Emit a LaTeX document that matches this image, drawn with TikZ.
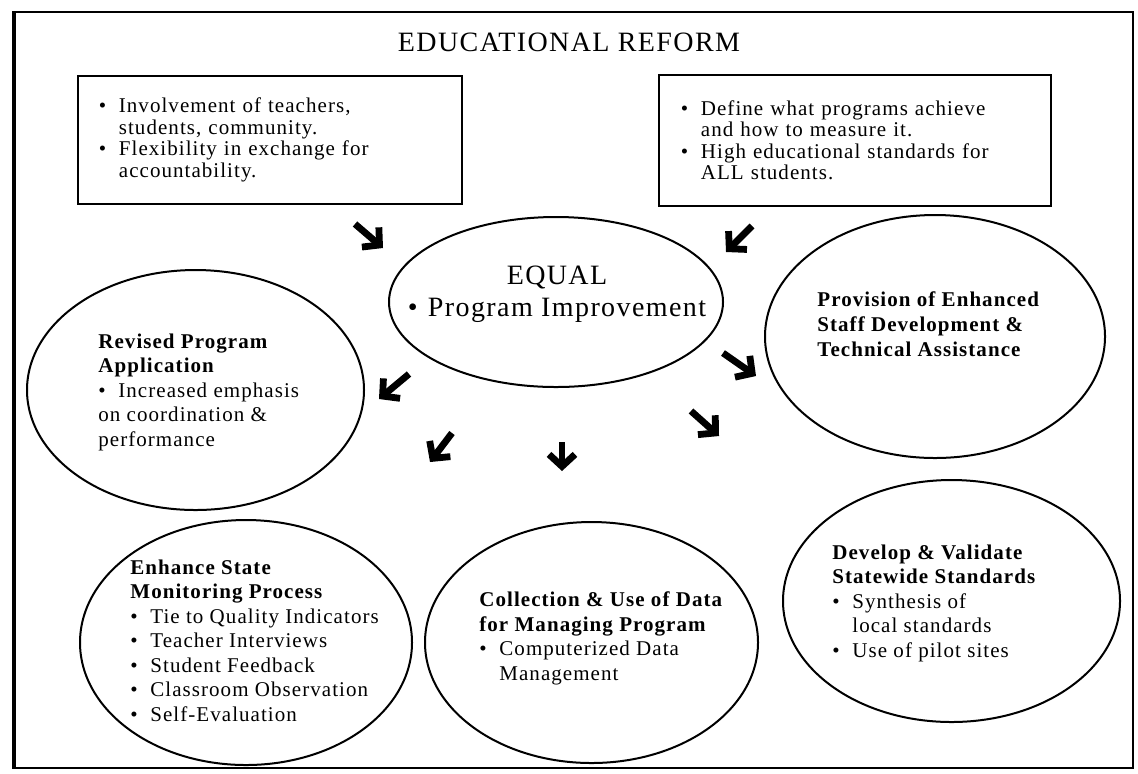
\documentclass[tikz,border=0pt]{standalone}
\usepackage{fontspec}
\setmainfont{Liberation Serif}[LetterSpace=5]
\usetikzlibrary{positioning,arrows.meta,shapes.geometric}

\newcommand{\bul}{\makebox[10pt][l]{\textbullet}}
\newcommand{\ind}{\hspace*{10pt}}

\begin{document}
\begin{tikzpicture}[x=0.5pt, y=-0.5pt,
    frame/.style={draw=black, line width=1.2pt},
    notebox/.style={rectangle, draw=black, line width=0.9pt, anchor=north west, align=left, inner ysep=0pt, font=\fontsize{10.5}{10.75}\selectfont},
    bubble/.style={ellipse, draw=black, line width=1pt, inner sep=0pt},
    bubbletext/.style={anchor=north west, align=left, inner sep=0pt, font=\fontsize{10.5}{12.25}\selectfont},
    headtext/.style={bubbletext, font=\fontsize{10.5}{12.5}\selectfont\bfseries},
    arr/.style={line width=3.4pt, line join=round, -{Straight Barb[length=6pt,width=13pt]}}
    ]
        \useasboundingbox (0,0) rectangle (1138,773);
        \draw[frame] (13,12) rectangle (1133,768);
        \draw[frame, line width=2.2pt] (14,12) -- (14,768);

        %Nodes
        \node[font=\fontsize{14}{16}\selectfont]
            (title)     at (569,42)     {EDUCATIONAL REFORM};
        \node[notebox, minimum width=192pt, minimum height=64pt, inner xsep=10.5pt, text width=171pt]
            (boxL)      at (77,75)      {\bul Involvement of teachers,\\ \ind students, community.\\ \bul Flexibility in exchange for\\ \ind accountability.};
        \node[notebox, minimum width=196pt, minimum height=65.5pt, inner xsep=11pt, text width=174pt]
            (boxR)      at (658,74)     {\bul Define what programs achieve\\ \ind and how to measure it.\\ \bul High educational standards for\\ \ind ALL students.};

        \node[bubble, minimum width=167pt, minimum height=85pt]
            (equal)     at (556,302)    {};
        \node[align=center, inner sep=0pt, font=\fontsize{14}{16}\selectfont]
            (equalT)    at (557,294)    {EQUAL\\ \bul Program Improvement};

        \node[bubble, minimum width=168.5pt, minimum height=120pt]
            (revised)   at (195.5,390)  {};
        \node[bubbletext]
            (revisedT)  at (98,333.5)   {\textbf{Revised Program}\\ \textbf{Application}\\ \bul Increased emphasis\\ on coordination \&\\ performance};

        \node[bubble, minimum width=170pt, minimum height=121.5pt]
            (staff)     at (935,336.5)  {};
        \node[headtext]
            (staffT)    at (817,291.5)  {Provision of Enhanced\\ Staff Development \&\\ Technical Assistance};

        \node[bubble, minimum width=166pt, minimum height=122.5pt]
            (monitor)   at (246,642.5)  {};
        \node[bubbletext]
            (monitorT)  at (130,559.5)  {\textbf{Enhance State}\\ \textbf{Monitoring Process}\\ \bul Tie to Quality Indicators\\ \bul Teacher Interviews\\ \bul Student Feedback\\ \bul Classroom Observation\\ \bul Self-Evaluation};

        \node[bubble, minimum width=166.5pt, minimum height=120.5pt]
            (data)      at (591.5,642.5) {};
        \node[bubbletext]
            (dataT)     at (479,591.5)  {\textbf{Collection \& Use of Data}\\ \textbf{for Managing Program}\\ \bul Computerized Data\\ \ind Management};

        \node[bubble, minimum width=168.5pt, minimum height=121pt]
            (standards) at (951.5,601)  {};
        \node[bubbletext]
            (standardsT) at (832,544.5) {\textbf{Develop \& Validate}\\ \textbf{Statewide Standards}\\ \bul Synthesis of\\ \ind local standards\\ \bul Use of pilot sites};

        %Arrow ends
        \coordinate (a1) at (355,224);  \coordinate (b1) at (383,248);
        \coordinate (a2) at (752,226);  \coordinate (b2) at (726,252);
        \coordinate (a3) at (409,374);  \coordinate (b3) at (379,399);
        \coordinate (a4) at (723,353);  \coordinate (b4) at (756,376);
        \coordinate (a5) at (452,433);  \coordinate (b5) at (430,462);
        \coordinate (a6) at (562,442);  \coordinate (b6) at (562,471);
        \coordinate (a7) at (691,411);  \coordinate (b7) at (719,436);

        %Lines
        \foreach \i in {1,...,7}
            \draw[arr] (a\i) -- (b\i);
    \end{tikzpicture}
\end{document}
